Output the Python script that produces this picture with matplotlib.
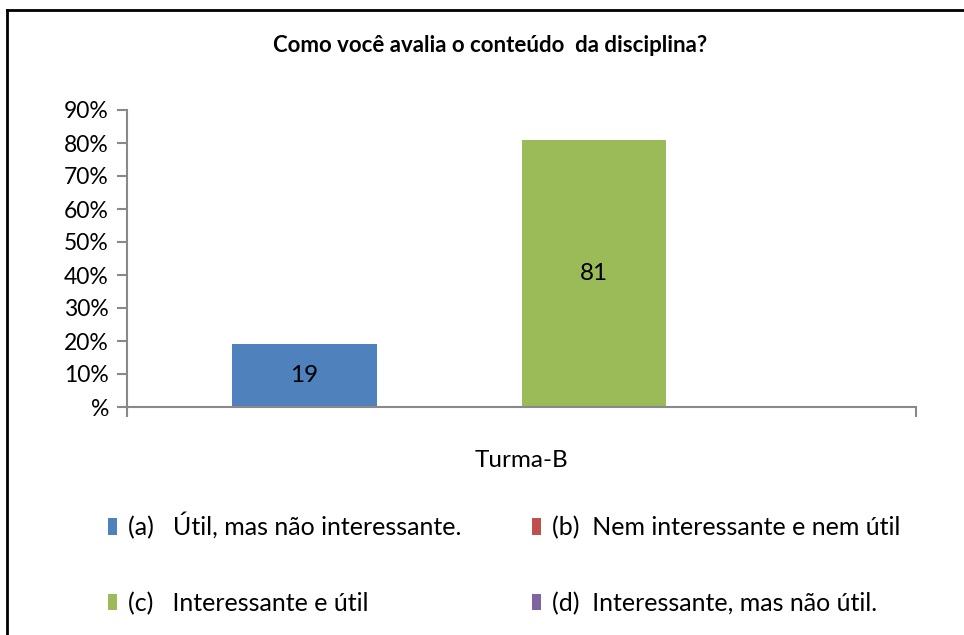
import matplotlib
matplotlib.use("Agg")
import matplotlib.pyplot as plt
from matplotlib.lines import Line2D

plt.rcParams['font.family'] = ['Lato', 'DejaVu Sans']

title = "Como você avalia o conteúdo  da disciplina?"
category = "Turma-B"
series_labels = ["(a)   Útil, mas não interessante.",
                 "(b)  Nem interessante e nem útil",
                 "(c)   Interessante e útil",
                 "(d)  Interessante, mas não útil."]
values = [19, 0, 81, 0]
colors = ["#4F81BD", "#C0504D", "#9BBB59", "#8064A2"]
yticks = [0, 10, 20, 30, 40, 50, 60, 70, 80, 90]
ytick_labels = ["%", "10%", "20%", "30%", "40%", "50%", "60%", "70%", "80%", "90%"]

fig = plt.figure(figsize=(9.64, 6.35), dpi=100)
ax = fig.add_axes([127/964, (635-407)/635, 789/964, 297/635])

n = len(values)
group_w = 0.734
bw = group_w / n
bars = []
for i, (v, c, lab) in enumerate(zip(values, colors, series_labels)):
    x = -group_w/2 + bw*(i+0.5)
    b = ax.bar(x, v, width=bw, color=c, label=lab, zorder=2)
    bars.append(b)
    if v > 0:
        ax.text(x, v/2, f"{v}", ha='center', va='center', fontsize=17.5, color='black')

ax.set_xlim(-0.5, 0.5)
ax.set_ylim(0, 90)
ax.set_yticks(yticks)
ax.set_yticklabels(ytick_labels, fontsize=16.5)
ax.set_xticks([-0.5, 0.5])
ax.set_xticklabels(["", ""])
ax.tick_params(axis='both', direction='out', length=7, width=1.5, color='#898989')
ax.tick_params(axis='y', pad=6)
for s in ['top', 'right']:
    ax.spines[s].set_visible(False)
for s in ['left', 'bottom']:
    ax.spines[s].set_color('#898989')
    ax.spines[s].set_linewidth(1.5)
ax.spines['left'].set_bounds(0, 90)

ax.text(0.5, -0.18, category, transform=ax.transAxes, ha='center', va='center', fontsize=17.5)

fig.text(490/964, 1-45/635, title, ha='center', va='center', fontsize=16, fontweight='bold')

order = [0, 2, 1, 3]
leg = fig.legend([bars[i] for i in order], [series_labels[i] for i in order],
                 ncol=2, loc='upper left', bbox_to_anchor=(108/964, 1-512/635),
                 frameon=False, fontsize=18, handlelength=0.36, handleheight=0.62,
                 handletextpad=0.44, labelspacing=2.1, columnspacing=2.82,
                 borderaxespad=0, borderpad=0)

# chart border (top and left only)
fig.add_artist(Line2D([6.5/964, 6.5/964], [0, 1-9.5/635], transform=fig.transFigure, color='black', lw=2))
fig.add_artist(Line2D([6.5/964, 1], [1-9.5/635, 1-9.5/635], transform=fig.transFigure, color='black', lw=2))

fig.savefig("out.png", dpi=100, facecolor='white')
